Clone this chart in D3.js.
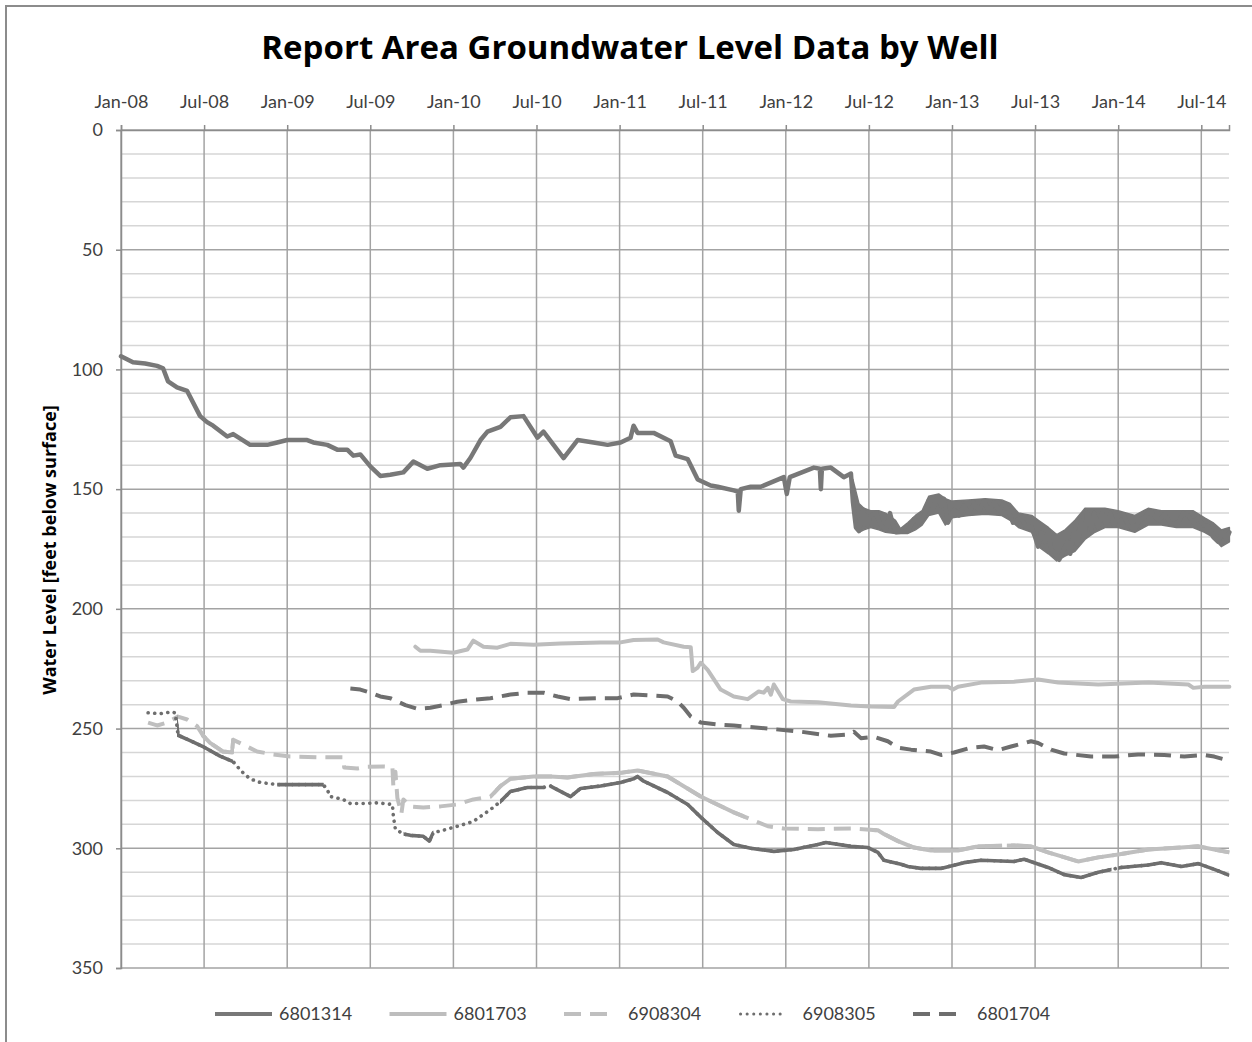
<!DOCTYPE html>
<html><head><meta charset="utf-8">
<script src="https://cdn.jsdelivr.net/npm/d3@7"></script>
<style>
body{margin:0;background:#fff}
svg{display:block}
</style>
</head><body>
<svg id="c" width="1252" height="1042"></svg>
<script>
// ---------------- data ----------------
const chartTitle = "Report Area Groundwater Level Data by Well";
const yAxisTitle = "Water Level [feet below surface]";
const xTickLabels = ["Jan-08","Jul-08","Jan-09","Jul-09","Jan-10","Jul-10","Jan-11","Jul-11","Jan-12","Jul-12","Jan-13","Jul-13","Jan-14","Jul-14"];
const yTicks = [0,50,100,150,200,250,300,350];
const wellIds = ["6801314","6801703","6908304","6908305","6801704"];

// [decimal year, feet below surface]
const well6801314 = [[2008.000,94.5],[2008.072,97],[2008.145,97.5],[2008.217,98.5],[2008.253,99.5],[2008.283,105],[2008.337,107.5],[2008.398,109],[2008.476,119.5],[2008.518,122],[2008.554,123.5],[2008.639,128],[2008.675,127],[2008.777,131.5],[2008.880,131.5],[2008.940,130.5],[2009.000,129.5],[2009.120,129.5],[2009.157,130.5],[2009.241,131.5],[2009.301,133.5],[2009.361,133.5],[2009.398,136],[2009.440,135.5],[2009.500,140.5],[2009.560,144.5],[2009.620,144],[2009.699,143],[2009.759,138.5],[2009.843,141.5],[2009.922,140],[2010.042,139.5],[2010.060,141],[2010.102,137],[2010.163,129.5],[2010.205,126],[2010.283,124],[2010.343,120],[2010.422,119.5],[2010.506,128.5],[2010.542,126],[2010.663,137],[2010.747,129.5],[2010.843,130.5],[2010.928,131.5],[2011.006,130.5],[2011.066,128.5],[2011.084,123.5],[2011.108,126.5],[2011.205,126.5],[2011.307,130],[2011.337,136],[2011.410,137.5],[2011.470,146],[2011.548,148.5],[2011.590,149],[2011.687,150.5],[2011.711,151],[2011.717,159],[2011.729,150],[2011.789,149],[2011.849,149],[2011.988,145],[2012.006,152],[2012.024,145],[2012.169,141],[2012.205,141.5],[2012.211,150],[2012.217,141.5],[2012.271,141],[2012.349,145],[2012.392,143.5],[2012.404,155.5],[2012.422,166],[2012.440,167.5],[2012.464,158.5],[2012.488,165],[2012.512,161],[2012.542,160],[2012.572,165],[2012.602,167],[2012.627,160],[2012.645,165],[2012.663,168],[2012.735,167.5],[2012.771,162.5],[2012.801,164],[2012.831,161.5],[2012.849,158],[2012.861,154.5],[2012.886,158],[2012.916,153],[2012.934,157],[2012.952,154],[2012.976,164],[2013.012,158.5],[2013.042,161],[2013.072,157],[2013.102,160],[2013.133,156],[2013.163,159],[2013.193,155],[2013.223,159],[2013.253,155.5],[2013.283,159],[2013.313,156],[2013.337,158.5],[2013.367,164],[2013.416,162],[2013.446,166],[2013.476,165.5],[2013.500,170],[2013.518,174],[2013.536,168],[2013.560,172],[2013.578,167],[2013.596,175],[2013.620,177],[2013.645,179.5],[2013.675,175],[2013.693,172],[2013.711,177],[2013.735,167],[2013.753,173],[2013.777,163],[2013.795,170],[2013.813,160],[2013.837,167],[2013.855,160],[2013.880,166],[2013.904,160],[2013.928,165],[2013.952,160],[2013.976,165],[2014.000,161],[2014.030,160.5],[2014.060,165],[2014.096,167],[2014.127,163],[2014.157,162],[2014.187,159.5],[2014.217,161],[2014.247,163],[2014.277,160.5],[2014.319,164.5],[2014.361,164],[2014.392,160],[2014.422,161],[2014.452,164],[2014.482,162],[2014.512,165],[2014.542,165.5],[2014.572,170],[2014.602,172],[2014.627,168],[2014.651,171],[2014.669,168]];

// daily fluctuation range of 6801314 after mid-2012: [decimal year, shallowest, deepest]
const band6801314 = [[2012.404,146,156],[2012.440,156,168],[2012.470,158,167],[2012.510,159,166],[2012.560,159,167],[2012.600,160,168],[2012.660,163,168.5],[2012.690,166.5,168.5],[2012.735,164,168.5],[2012.780,161,167],[2012.820,159,165],[2012.860,153,161],[2012.920,152,160],[2012.960,154,165],[2013.000,155,162],[2013.100,154.5,161],[2013.200,154,160.5],[2013.300,154.5,161],[2013.350,156,163],[2013.400,160,166],[2013.480,161,168],[2013.520,163,174],[2013.580,166,177],[2013.630,169,180],[2013.680,167,178],[2013.740,163,176],[2013.800,158,171],[2013.860,158,168],[2013.920,158,166],[2014.000,159,166],[2014.100,161,168],[2014.180,158,165],[2014.260,159,165],[2014.350,159,166],[2014.450,159,166],[2014.520,162,168],[2014.570,164,170],[2014.620,167,174],[2014.669,166,172]];

const well6801703 = [[2009.771,215.8],[2009.801,217.5],[2009.861,217.5],[2010.000,218.3],[2010.084,217],[2010.120,213.3],[2010.181,215.8],[2010.265,216.2],[2010.343,214.6],[2010.482,215],[2010.645,214.5],[2010.886,214],[2011.006,214],[2011.084,213],[2011.229,212.8],[2011.265,214],[2011.386,215.8],[2011.428,216],[2011.440,226],[2011.470,224.5],[2011.488,222.5],[2011.530,225.5],[2011.608,233.7],[2011.687,236.6],[2011.771,237.7],[2011.837,234.5],[2011.867,235],[2011.892,233],[2011.910,235.8],[2011.928,231.6],[2011.982,237.7],[2012.030,238.7],[2012.193,239],[2012.392,240.4],[2012.512,240.8],[2012.651,241],[2012.675,238.7],[2012.771,233.7],[2012.873,232.5],[2012.976,232.5],[2013.006,233.7],[2013.036,232.5],[2013.175,230.8],[2013.373,230.4],[2013.518,229.5],[2013.639,230.8],[2013.880,231.6],[2014.181,230.8],[2014.422,231.6],[2014.452,233],[2014.518,232.5],[2014.669,232.5]];

const well6908304 = [[2008.163,247.5],[2008.217,248.7],[2008.277,247.5],[2008.343,245],[2008.398,246.2],[2008.458,249],[2008.494,253],[2008.536,256],[2008.614,259.6],[2008.669,260],[2008.675,254.7],[2008.735,256.7],[2008.819,259.6],[2008.916,260.8],[2009.018,261.7],[2009.217,262],[2009.337,262],[2009.343,266.3],[2009.422,266.7],[2009.482,266],[2009.578,265.8],[2009.633,266],[2009.639,274.5],[2009.651,268],[2009.663,279],[2009.687,285.5],[2009.699,279.6],[2009.741,282.5],[2009.819,283],[2009.922,282.5],[2010.024,281.7],[2010.120,279.6],[2010.223,278.4],[2010.283,274],[2010.343,271],[2010.482,270],[2010.584,270],[2010.687,270.4],[2010.843,269],[2011.006,268.5],[2011.108,267.5],[2011.289,270],[2011.488,278.4],[2011.687,285],[2011.892,290.8],[2011.988,291.7],[2012.193,292],[2012.392,291.7],[2012.554,292.5],[2012.590,294],[2012.675,297],[2012.771,299.7],[2012.873,300.9],[2013.036,300.9],[2013.157,299.2],[2013.373,298.8],[2013.476,299.2],[2013.578,301.7],[2013.759,305.5],[2013.880,303.8],[2014.000,302.6],[2014.181,300.5],[2014.380,299.7],[2014.482,299.2],[2014.578,300.5],[2014.669,301.7]];

const well6908305 = [[2008.163,243.4],[2008.235,243.8],[2008.307,243],[2008.325,243.5],[2008.337,249],[2008.343,252.8],[2008.416,255],[2008.506,258],[2008.596,261.5],[2008.675,263.8],[2008.699,265.8],[2008.735,268.5],[2008.777,271],[2008.837,272.5],[2008.940,273.4],[2009.217,273.4],[2009.241,275.5],[2009.259,278.4],[2009.337,279.6],[2009.380,281.3],[2009.458,281.3],[2009.542,281],[2009.633,281.7],[2009.639,286.7],[2009.651,292],[2009.699,294],[2009.741,294.6],[2009.819,295],[2009.855,297],[2009.880,293.4],[2009.922,292.8],[2010.024,290.8],[2010.120,288.8],[2010.223,283.8],[2010.283,280.5],[2010.343,276.3],[2010.446,274.6],[2010.542,274.6],[2010.584,274],[2010.705,278.4],[2010.765,275],[2010.886,274],[2011.006,272.5],[2011.084,271],[2011.108,270],[2011.145,272],[2011.289,276.7],[2011.410,281.7],[2011.488,287],[2011.590,293.4],[2011.687,298.4],[2011.789,300],[2011.928,301.3],[2012.048,300.5],[2012.193,298.4],[2012.241,297.6],[2012.392,299.2],[2012.494,299.7],[2012.554,301.7],[2012.590,305],[2012.693,306.7],[2012.735,307.6],[2012.813,308.4],[2012.934,308.4],[2013.072,306],[2013.175,305],[2013.373,305.5],[2013.434,304.6],[2013.578,308],[2013.675,311],[2013.777,312.2],[2013.880,310],[2014.018,308],[2014.181,307],[2014.259,306],[2014.380,307.6],[2014.482,306.4],[2014.578,308.8],[2014.669,311.3]];

const well6801704 = [[2009.380,233.3],[2009.440,233.7],[2009.500,235],[2009.560,236.6],[2009.620,237.3],[2009.711,240.2],[2009.783,241.7],[2009.861,241.3],[2009.940,240.2],[2010.024,238.8],[2010.120,238],[2010.223,237.3],[2010.343,235.8],[2010.446,235],[2010.542,235],[2010.627,236.6],[2010.705,237.7],[2010.886,237.3],[2010.988,237.3],[2011.084,235.8],[2011.187,236.2],[2011.289,236.6],[2011.349,238.7],[2011.386,241.3],[2011.428,245],[2011.488,247.5],[2011.590,248.3],[2011.687,248.7],[2011.892,250],[2012.090,251.3],[2012.271,253],[2012.373,252.5],[2012.410,251.3],[2012.452,254],[2012.530,253.4],[2012.614,255.3],[2012.675,258],[2012.753,258.8],[2012.873,259.6],[2012.934,261],[2013.012,260],[2013.114,258],[2013.193,257.5],[2013.277,259],[2013.355,257.5],[2013.476,255.3],[2013.518,256],[2013.596,258.8],[2013.675,260.4],[2013.837,261.7],[2013.976,261.7],[2014.120,260.8],[2014.277,261],[2014.398,261.7],[2014.518,261],[2014.578,261.7],[2014.663,263.3]];

// periods with continuous (daily) logger readings, which the original draws as unbroken strokes
const dense6908304 = [[2008.48,2008.68],[2010.25,2011.75],[2012.52,2013.30],[2013.33,2013.98],[2014.02,2014.67]];
const dense6908305 = [[2008.337,2008.675],[2008.94,2009.22],[2009.70,2009.88],[2010.28,2010.55],[2010.58,2013.96],[2014.00,2014.67]];

// ---------------- drawing ----------------
const W = 1252, H = 1042;
const svg = d3.select("#c");
const L = 121, R = 1229, T = 130, B = 968;
const x = d3.scaleLinear().domain([2008, 2014 + 8/12]).range([L, R]);
const y = d3.scaleLinear().domain([0, 350]).range([T, B]);
const xTickVals = xTickLabels.map((d, i) => 2008 + i * 0.5);
const sans = "Lato, 'Open Sans', sans-serif";
const wide = "'Open Sans', Lato, sans-serif";

// outer frame
svg.append("rect").attr("x", 6).attr("y", 6).attr("width", W + 20).attr("height", H + 20)
  .attr("fill", "none").attr("stroke", "#8c8c8c").attr("stroke-width", 2);

// title
svg.append("text").attr("x", 630).attr("y", 59).attr("text-anchor", "middle")
  .style("font-family", wide).style("font-size", "33px").style("font-weight", 700)
  .attr("fill", "#000").text(chartTitle);

// grid
const minor = d3.range(10, 350, 10).filter(v => v % 50 !== 0);
svg.append("g").selectAll("line").data(minor).join("line")
  .attr("x1", L).attr("x2", R).attr("y1", d => y(d)).attr("y2", d => y(d))
  .attr("stroke", "#d6d6d6").attr("stroke-width", 1.5);
svg.append("g").selectAll("line").data(yTicks).join("line")
  .attr("x1", L).attr("x2", R).attr("y1", d => y(d)).attr("y2", d => y(d))
  .attr("stroke", "#a3a3a3").attr("stroke-width", 1.5);
svg.append("g").selectAll("line").data(xTickVals).join("line")
  .attr("x1", d => x(d)).attr("x2", d => x(d)).attr("y1", T).attr("y2", B)
  .attr("stroke", "#a3a3a3").attr("stroke-width", 1.5);

// axes
const yAxis = svg.append("g").attr("transform", `translate(${L},0)`)
  .call(d3.axisLeft(y).tickValues(yTicks).tickSize(5).tickPadding(13));
const xAxis = svg.append("g").attr("transform", `translate(0,${T})`)
  .call(d3.axisTop(x).tickValues(xTickVals).tickFormat((d, i) => xTickLabels[i]).tickSize(5).tickPadding(17));
[yAxis, xAxis].forEach(g => {
  g.select(".domain").attr("stroke", "#8c8c8c").attr("stroke-width", 1.5);
  g.selectAll(".tick line").attr("stroke", "#8c8c8c").attr("stroke-width", 1.5);
  g.selectAll(".tick text").style("font-size", "18px").style("font-family", sans).attr("fill", "#404040");
});

// y axis title
svg.append("text").attr("transform", "translate(56,550) rotate(-90)").attr("text-anchor", "middle")
  .style("font-family", wide).style("font-size", "18px").style("font-weight", 700)
  .attr("fill", "#000").text(yAxisTitle);

// series
const styles = {
  "6801314": {data: well6801314, color: "#787878", width: 4.5, dash: null, cap: "round", band: band6801314},
  "6801703": {data: well6801703, color: "#bdbdbd", width: 4, dash: null, cap: "round"},
  "6908304": {data: well6908304, color: "#bfbfbf", width: 4, dash: "17,9", cap: "butt", dense: dense6908304},
  "6908305": {data: well6908305, color: "#6e6e6e", width: 3.6, dash: "0.1,6.5", cap: "round", dense: dense6908305},
  "6801704": {data: well6801704, color: "#6e6e6e", width: 4, dash: "17,9", cap: "butt"}
};
const line = d3.line().x(d => x(d[0])).y(d => y(d[1]));
const area = d3.area().x(d => x(d[0])).y0(d => y(d[1])).y1(d => y(d[2]));
const defs = svg.append("defs");
const plot = svg.append("g");
wellIds.forEach(id => {
  const s = styles[id];
  if (s.band) {
    plot.append("path").attr("d", area(s.band)).attr("fill", s.color)
      .attr("stroke", s.color).attr("stroke-width", 1.5).attr("stroke-linejoin", "round");
  }
  plot.append("path").attr("d", line(s.data)).attr("fill", "none")
    .attr("stroke", s.color).attr("stroke-width", s.width)
    .attr("stroke-dasharray", s.dash).attr("stroke-linecap", s.cap).attr("stroke-linejoin", "round");
  if (s.dense) {
    const cp = defs.append("clipPath").attr("id", "dense" + id);
    cp.selectAll("rect").data(s.dense).join("rect")
      .attr("x", d => x(d[0])).attr("width", d => x(d[1]) - x(d[0]))
      .attr("y", T - 10).attr("height", B - T + 20);
    plot.append("path").attr("d", line(s.data)).attr("fill", "none")
      .attr("clip-path", `url(#dense${id})`)
      .attr("stroke", s.color).attr("stroke-width", s.width).attr("stroke-linejoin", "round");
  }
});

// legend
const lg = svg.append("g").attr("transform", "translate(0,1014)");
wellIds.forEach((id, i) => {
  const s = styles[id];
  const x0 = 215 + i * 174.5;
  const len = s.dash === null ? 57 : (s.cap === "round" ? 45 : 44);
  lg.append("line").attr("x1", x0 + (s.cap === "round" && s.dash ? 2 : 0)).attr("x2", x0 + len).attr("y1", 0).attr("y2", 0)
    .attr("stroke", s.color).attr("stroke-width", s.dash && s.cap === "round" ? 3 : 4)
    .attr("stroke-dasharray", s.dash).attr("stroke-linecap", s.dash ? s.cap : "butt");
  lg.append("text").attr("x", x0 + 64).attr("y", 0).attr("dy", "0.35em")
    .style("font-size", "18px").style("font-family", sans).attr("fill", "#404040").text(id);
});
</script>
</body></html>
